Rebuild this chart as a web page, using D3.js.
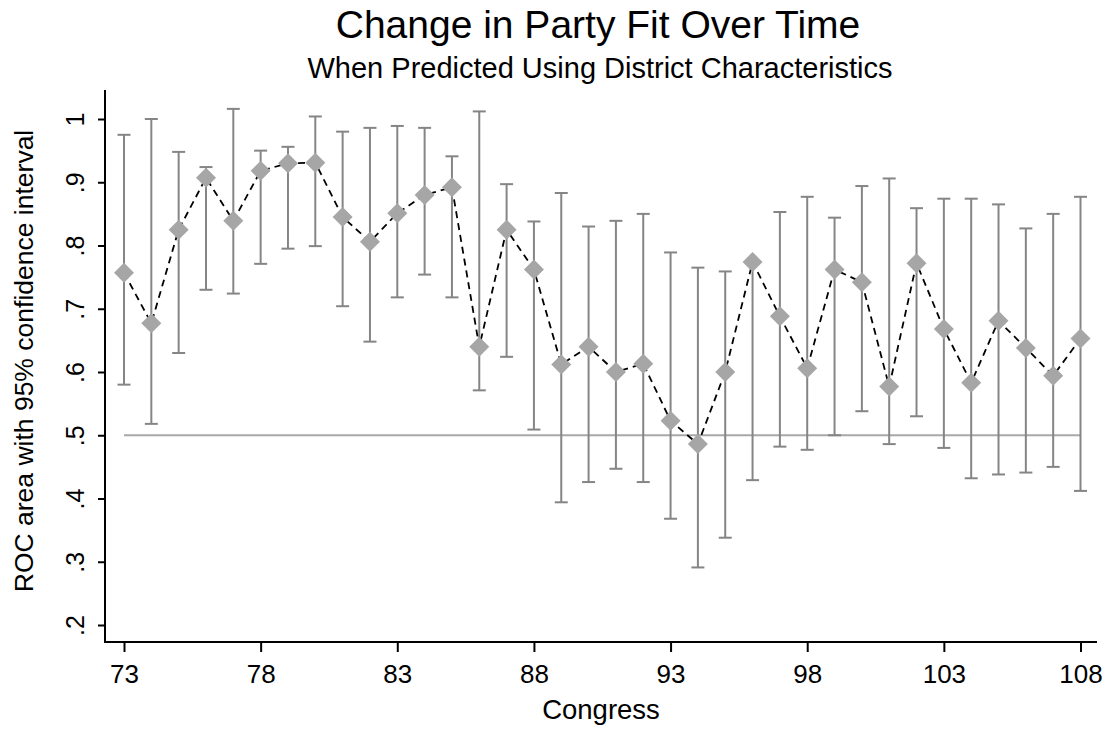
<!DOCTYPE html>
<html>
<head>
<meta charset="utf-8">
<script src="https://cdn.jsdelivr.net/npm/d3@7"></script>
<style>
  body { margin: 0; background: #fff; }
  text { font-family: "Liberation Sans", Arial, sans-serif; fill: #000; }
</style>
</head>
<body>
<script>
'use strict';

// congress numbers
var congress = [73, 74, 75, 76, 77, 78, 79, 80, 81, 82, 83, 84, 85, 86, 87, 88, 89, 90,
	91, 92, 93, 94, 95, 96, 97, 98, 99, 100, 101, 102, 103, 104, 105, 106, 107, 108];

// ROC area point estimates
var roc = [0.757, 0.677, 0.825, 0.907, 0.839, 0.918, 0.930, 0.931, 0.845, 0.806, 0.851, 0.880,
	0.892, 0.640, 0.825, 0.762, 0.612, 0.640, 0.600, 0.613, 0.523, 0.486, 0.600, 0.774,
	0.688, 0.606, 0.762, 0.742, 0.577, 0.772, 0.668, 0.583, 0.681, 0.638, 0.594, 0.653];

// 95% confidence interval bounds
var upper = [0.975, 1.000, 0.948, 0.924, 1.016, 0.950, 0.956, 1.004, 0.980, 0.986, 0.989, 0.986,
	0.941, 1.012, 0.897, 0.838, 0.883, 0.830, 0.839, 0.850, 0.789, 0.765, 0.759, 0.776,
	0.853, 0.877, 0.844, 0.894, 0.906, 0.859, 0.874, 0.874, 0.865, 0.827, 0.850, 0.877];
var lower = [0.580, 0.518, 0.630, 0.730, 0.724, 0.771, 0.795, 0.799, 0.704, 0.648, 0.718, 0.754,
	0.718, 0.571, 0.624, 0.509, 0.394, 0.426, 0.447, 0.426, 0.368, 0.291, 0.338, 0.429,
	0.482, 0.477, 0.500, 0.538, 0.486, 0.530, 0.480, 0.432, 0.438, 0.441, 0.450, 0.412];

var xTicks = [73, 78, 83, 88, 93, 98, 103, 108];
var yTicks = [0.2, 0.3, 0.4, 0.5, 0.6, 0.7, 0.8, 0.9, 1];
var refValue = 0.5;

var W = 1107, H = 729;
var plotLeft = 105, plotRight = 1097, plotTop = 90, plotBottom = 642;

var data = congress.map((c, i) => ({c: c, v: roc[i], lo: lower[i], hi: upper[i]}));

var x = d3.scaleLinear().domain([73, 108]).range([124, 1080.5]);
var y = d3.scaleLinear().domain([0.2, 1]).range([625, 119]);

var svg = d3.select('body').append('svg')
	.attr('width', W).attr('height', H);

// titles
svg.append('text')
	.attr('x', 598).attr('y', 38)
	.attr('text-anchor', 'middle')
	.style('font-size', '39px')
	.text('Change in Party Fit Over Time');
svg.append('text')
	.attr('x', 600).attr('y', 78)
	.attr('text-anchor', 'middle')
	.style('font-size', '29px')
	.text('When Predicted Using District Characteristics');

// axes
var yAxis = svg.append('g')
	.attr('transform', 'translate(' + plotLeft + ',0)')
	.call(d3.axisLeft(y).tickValues(yTicks).tickSize(7).tickSizeOuter(0)
		.tickFormat(d => d === 1 ? '1' : d3.format('.1f')(d).replace(/^0/, '')));
yAxis.select('.domain').remove();
yAxis.selectAll('.tick line').attr('stroke', '#000').attr('stroke-width', 2);
yAxis.selectAll('.tick text')
	.attr('x', null).attr('dy', null)
	.attr('transform', 'translate(-21,0) rotate(-90)')
	.attr('text-anchor', 'middle')
	.style('font-size', '25px');

var xAxis = svg.append('g')
	.attr('transform', 'translate(0,' + plotBottom + ')')
	.call(d3.axisBottom(x).tickValues(xTicks).tickSize(10).tickSizeOuter(0));
xAxis.select('.domain').remove();
xAxis.selectAll('.tick line').attr('stroke', '#000').attr('stroke-width', 2);
xAxis.selectAll('.tick text')
	.attr('y', 41).attr('dy', null)
	.style('font-size', '26px');

svg.append('line')
	.attr('x1', plotLeft).attr('x2', plotLeft).attr('y1', plotTop).attr('y2', plotBottom + 1)
	.attr('stroke', '#000').attr('stroke-width', 2);
svg.append('line')
	.attr('x1', plotLeft - 1).attr('x2', plotRight).attr('y1', plotBottom).attr('y2', plotBottom)
	.attr('stroke', '#000').attr('stroke-width', 2);

// axis titles
svg.append('text')
	.attr('transform', 'translate(33,361) rotate(-90)')
	.attr('text-anchor', 'middle')
	.style('font-size', '26.5px')
	.text('ROC area with 95% confidence interval');
svg.append('text')
	.attr('x', 601).attr('y', 719)
	.attr('text-anchor', 'middle')
	.style('font-size', '27.5px')
	.text('Congress');

// reference line at .5
svg.append('line')
	.attr('x1', x(congress[0])).attr('x2', x(congress[congress.length - 1]))
	.attr('y1', y(refValue)).attr('y2', y(refValue))
	.attr('stroke', '#a8a8a8').attr('stroke-width', 2);

// error bars
var bars = svg.append('g').selectAll('g')
	.data(data)
	.enter()
	.append('g')
	.attr('stroke', '#858585')
	.attr('stroke-width', 2);
bars.append('line')
	.attr('x1', d => x(d.c)).attr('x2', d => x(d.c))
	.attr('y1', d => y(d.lo)).attr('y2', d => y(d.hi));
bars.append('line')
	.attr('x1', d => x(d.c) - 6.5).attr('x2', d => x(d.c) + 6.5)
	.attr('y1', d => y(d.hi)).attr('y2', d => y(d.hi));
bars.append('line')
	.attr('x1', d => x(d.c) - 6.5).attr('x2', d => x(d.c) + 6.5)
	.attr('y1', d => y(d.lo)).attr('y2', d => y(d.lo));

// connecting dashed line
svg.append('path')
	.datum(data)
	.attr('fill', 'none')
	.attr('stroke', '#000')
	.attr('stroke-width', 1.8)
	.attr('stroke-dasharray', '7,5')
	.attr('d', d3.line().x(d => x(d.c)).y(d => y(d.v)));

// diamond markers
svg.append('g').selectAll('path')
	.data(data)
	.enter()
	.append('path')
	.attr('d', d3.symbol(d3.symbolSquare, 200))
	.attr('transform', d => 'translate(' + x(d.c) + ',' + y(d.v) + ') rotate(45)')
	.attr('fill', '#a6a6a6');
</script>
</body>
</html>
